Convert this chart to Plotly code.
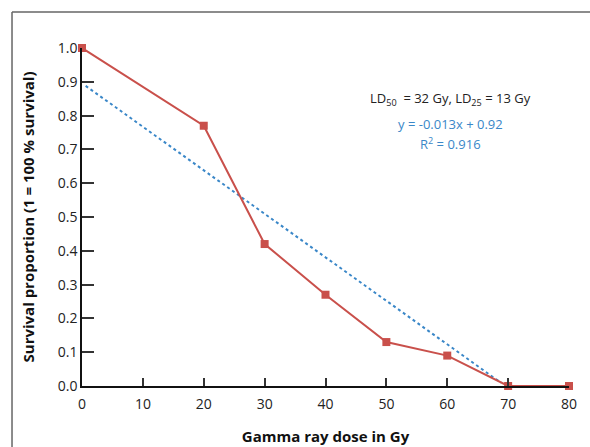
import plotly.graph_objects as go

dose = [0, 20, 30, 40, 50, 60, 70, 80]
survival = [1.0, 0.77, 0.42, 0.27, 0.13, 0.09, 0.0, 0.0]
trend_x = [0.6, 68.8]
trend_y = [0.888, 0.01]
x_ticks = [0, 10, 20, 30, 40, 50, 60, 70, 80]
y_ticks = [0.0, 0.1, 0.2, 0.3, 0.4, 0.5, 0.6, 0.7, 0.8, 0.9, 1.0]

RED = "#c9504b"
BLUE = "#3a87c8"
FONT = "Open Sans"

fig = go.Figure()
fig.add_trace(go.Scatter(x=trend_x, y=trend_y, mode="lines",
                         line=dict(color=BLUE, width=2, dash="dot"),
                         showlegend=False, cliponaxis=False))
fig.add_trace(go.Scatter(x=dose, y=survival, mode="lines+markers",
                         line=dict(color=RED, width=2),
                         marker=dict(symbol="square", size=8, color=RED),
                         showlegend=False, cliponaxis=False))

fig.update_layout(
    width=590, height=447,
    margin=dict(l=82, r=21, t=48, b=61),
    paper_bgcolor="white", plot_bgcolor="white",
    font=dict(family=FONT, size=14, color="#222"),
    xaxis=dict(range=[0, 80], tickvals=x_ticks, ticktext=[str(v) for v in x_ticks],
               ticks="inside", ticklen=8, tickwidth=1.5, tickcolor="#333",
               ticklabelstandoff=4,
               showline=True, linecolor="#111", linewidth=1.5,
               showgrid=False, zeroline=False, automargin=False,
               title=dict(text="<b>Gamma ray dose in Gy</b>", font=dict(size=15, color="#111"), standoff=20)),
    yaxis=dict(range=[0, 1.0], tickvals=y_ticks, ticktext=[f"{v:.1f}" for v in y_ticks],
               ticks="inside", ticklen=12, tickwidth=1.5, tickcolor="#333",
               showline=True, linecolor="#111", linewidth=1.5,
               showgrid=False, zeroline=False, automargin=False,
               title=dict(text="<b>Survival proportion (1 = 100 % survival)</b>", font=dict(size=15, color="#111"), standoff=20)),
    shapes=[
        dict(type="line", xref="paper", yref="paper", x0=-0.1437, x1=-0.1437, y0=-0.2, y1=1.1065,
             line=dict(color="#666", width=1.5)),
        dict(type="line", xref="paper", yref="paper", x0=-0.1437, x1=1.05, y0=1.1065, y1=1.1065,
             line=dict(color="#666", width=1.5)),
    ],
    annotations=[
        dict(x=0.756, y=0.849, xref="paper", yref="paper", showarrow=False,
             xanchor="center", yanchor="middle",
             text="LD<sub>50</sub>  = 32 Gy, LD<sub>25</sub> = 13 Gy",
             font=dict(size=13, color="#222", family=FONT)),
        dict(x=0.756, y=0.774, xref="paper", yref="paper", showarrow=False,
             xanchor="center", yanchor="middle",
             text="y = -0.013x + 0.92",
             font=dict(size=13, color=BLUE, family=FONT)),
        dict(x=0.756, y=0.718, xref="paper", yref="paper", showarrow=False,
             xanchor="center", yanchor="middle",
             text="R<sup>2</sup> = 0.916",
             font=dict(size=13, color=BLUE, family=FONT)),
    ],
)

fig.write_html("out.html", config={"displayModeBar": False},
               post_script="document.body.style.margin='0';document.body.style.overflow='hidden';")
